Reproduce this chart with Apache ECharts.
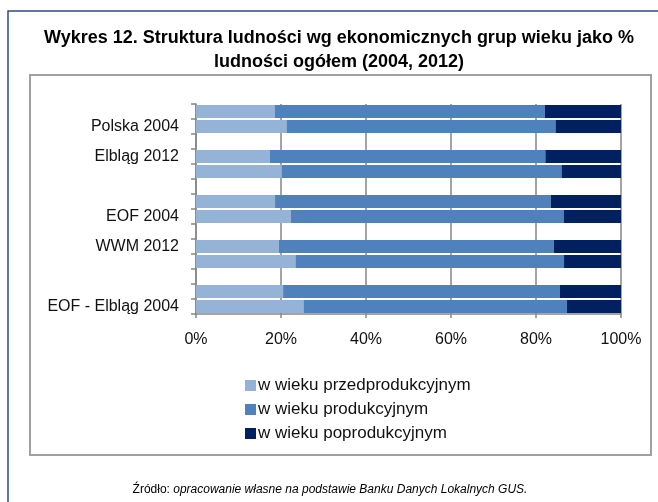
<!DOCTYPE html>
<html>
<head>
<meta charset="utf-8">
<script src="https://cdn.jsdelivr.net/npm/echarts@6/dist/echarts.min.js"></script>
<style>
  html, body { margin: 0; padding: 0; background: #fff; }
</style>
</head>
<body>
<div id="main" style="width: 658px;height: 502px;"></div>
<script>
// categories listed from bottom to top, '' = empty spacer row
const categories = ['EOF - Elbląg 2004', 'EOF - Elbląg 2012', '', 'WWM 2004', 'WWM 2012', '',
  'EOF 2004', 'EOF 2012', '', 'Elbląg 2004', 'Elbląg 2012', '', 'Polska 2004', 'Polska 2012'];
const przedprodukcyjny = [25.3, 20.5, null, 23.4, 19.5, null, 22.3, 18.6, null, 20.2, 17.4, null, 21.3, 18.5];
const produkcyjny = [62.0, 65.1, null, 63.2, 64.7, null, 64.2, 64.9, null, 65.8, 64.8, null, 63.3, 63.6];
const poprodukcyjny = [12.7, 14.4, null, 13.4, 15.8, null, 13.5, 16.5, null, 14.0, 17.8, null, 15.4, 17.9];
const seriesNames = ['w wieku przedprodukcyjnym', 'w wieku produkcyjnym', 'w wieku poprodukcyjnym'];
const xTicks = [0, 20, 40, 60, 80, 100];

const font = "'Liberation Sans', Arial, sans-serif";
const chart = echarts.init(document.getElementById('main'));

function bar(name, data, color) {
  return {
    name: name,
    type: 'bar',
    stack: 'Total',
    barCategoryGap: '13%',
    itemStyle: { color: color },
    data: data
  };
}

let option = {
  backgroundColor: '#fff',
  animation: false,
  textStyle: { fontFamily: font },
  graphic: [
    // outer frame
    { type: 'rect', shape: { x: 8, y: 11, width: 700, height: 600 },
      style: { fill: 'none', stroke: '#2c4a86', lineWidth: 1.5 }, z: -1 },
    // chart box
    { type: 'rect', shape: { x: 30, y: 75, width: 621, height: 380 },
      style: { fill: 'none', stroke: '#a0a0a0', lineWidth: 2 }, z: -1 },
    { type: 'text', x: 339, y: 26,
      style: { text: 'Wykres 12. Struktura ludności wg ekonomicznych grup wieku jako %\nludności ogółem (2004, 2012)',
        align: 'center', fontFamily: font, fontWeight: 'bold', fontSize: 18, lineHeight: 24, fill: '#000' } },
    { type: 'text', x: 330, y: 484,
      style: { text: '{n|Źródło: }{i|opracowanie własne na podstawie Banku Danych Lokalnych GUS.}',
        align: 'center', fontFamily: font, fill: '#000',
        rich: { n: { fontSize: 12, fontFamily: font }, i: { fontSize: 12, fontStyle: 'italic', fontFamily: font } } } }
  ],
  legend: {
    orient: 'vertical',
    left: 240,
    top: 372,
    itemWidth: 11,
    itemHeight: 11,
    itemGap: 7,
    icon: 'rect',
    textStyle: { fontSize: 17, lineHeight: 17, color: '#111', fontFamily: font, padding: [0, 0, 0, -3] },
    data: seriesNames
  },
  grid: { left: 196, right: 37, top: 104, bottom: 188 },
  xAxis: {
    type: 'value',
    min: xTicks[0],
    max: xTicks[xTicks.length - 1],
    interval: 20,
    axisLine: { show: true, lineStyle: { color: '#868686', width: 1.5 } },
    axisTick: { show: true, length: 4, lineStyle: { color: '#868686', width: 1.5 } },
    splitLine: { show: true, lineStyle: { color: '#868686', width: 1.5 } },
    axisLabel: { formatter: '{value}%', fontSize: 16, color: '#111', margin: 18, fontFamily: font }
  },
  yAxis: {
    type: 'category',
    data: categories,
    axisLine: { show: true, lineStyle: { color: '#868686', width: 1.5 } },
    axisTick: { show: true, interval: 0, length: 5, lineStyle: { color: '#868686', width: 1.5 } },
    axisLabel: { interval: 1, fontSize: 16, color: '#111', margin: 17, fontFamily: font }
  },
  series: [
    bar(seriesNames[0], przedprodukcyjny, '#95b3d7'),
    bar(seriesNames[1], produkcyjny, '#4f81bd'),
    bar(seriesNames[2], poprodukcyjny, '#002060')
  ]
};
option && chart.setOption(option);
</script>
</body>
</html>
